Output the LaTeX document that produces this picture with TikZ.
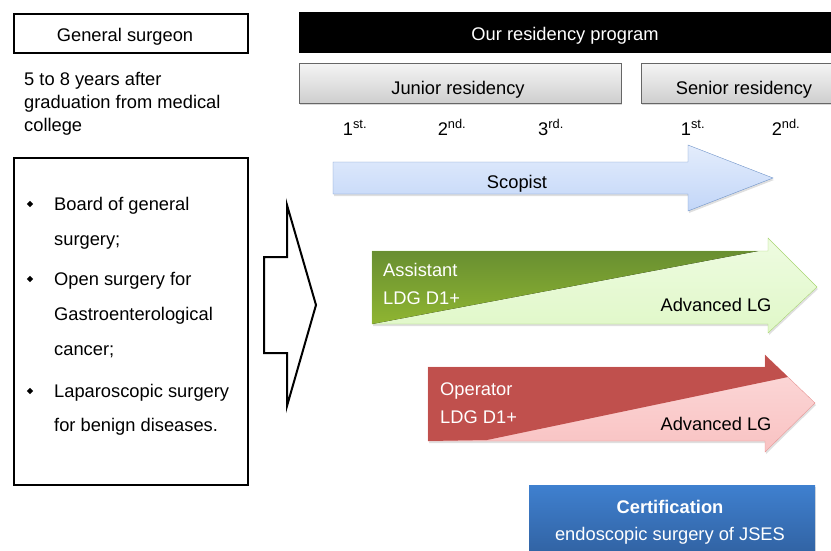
\documentclass[tikz,border=0pt]{standalone}
\usepackage{fontspec}
\setmainfont{Liberation Sans}
\usetikzlibrary{shapes}
\usetikzlibrary{shadows}

\definecolor{scopfill}{HTML}{C2D6F8}
\definecolor{scopline}{HTML}{6F93C8}
\definecolor{asslight}{HTML}{E0F8C8}
\definecolor{assline}{HTML}{A9D671}
\definecolor{assdark}{HTML}{7BA83A}
\definecolor{oplight}{HTML}{F9C2C2}
\definecolor{opline}{HTML}{E79494}
\definecolor{opdark}{HTML}{C0504D}
\definecolor{certtop}{HTML}{3F80CF}
\definecolor{certbot}{HTML}{30609F}

\begin{document}
\begin{tikzpicture}[x=1pt,y=-1pt]
			\tikzstyle{txt}=[font=\fontsize{18.3}{22}\selectfont, inner sep=0pt]
			\tikzstyle{blackbox}=[draw=black, line width=2.2pt]
			\tikzstyle{graybox}=[draw=gray!80!black, top color=gray!8, bottom color=gray!38, drop shadow={opacity=0.3, shadow xshift=1pt, shadow yshift=-2pt}]
			\tikzstyle{shade}=[drop shadow={opacity=0.25, shadow xshift=1pt, shadow yshift=-2pt}]
			\tikzstyle{bul}=[diamond, fill=black, inner sep=0pt, minimum size=6.5pt]
			\useasboundingbox (0,0) rectangle (831,550);

			\draw[blackbox] (14,14) rectangle (248,53);
			\node[txt, anchor=base] (gs) at (125,41) {General surgeon};
			\node[txt, anchor=base west] (yr1) at (24,85) {5 to 8 years after};
			\node[txt, anchor=base west] (yr2) at (24,108) {graduation from medical};
			\node[txt, anchor=base west] (yr3) at (24,131) {college};

			\draw[blackbox] (14,158) rectangle (248,485);
			\node[bul] (b1) at (30,204) {};
			\node[bul] (b2) at (30,279) {};
			\node[bul] (b3) at (30,391) {};
			\node[txt, anchor=base west] (l1) at (54,210) {Board of general};
			\node[txt, anchor=base west] (l2) at (54,245) {surgery;};
			\node[txt, anchor=base west] (l3) at (54,285) {Open surgery for};
			\node[txt, anchor=base west] (l4) at (54,320) {Gastroenterological};
			\node[txt, anchor=base west] (l5) at (54,355) {cancer;};
			\node[txt, anchor=base west] (l6) at (54,397) {Laparoscopic surgery};
			\node[txt, anchor=base west] (l7) at (54,431) {for benign diseases.};

			\draw[black, line width=2pt, line join=miter, fill=white] (264,257) -- (287,257) -- (287,205) -- (316,305) -- (287,406) -- (287,353) -- (264,353) -- cycle;

			\fill[black] (299,12) rectangle (831,53);
			\node[txt, anchor=base, white] (prog) at (565,40) {Our residency program};
			\draw[graybox] (299,63) rectangle (621,103);
			\node[txt, anchor=base] (jun) at (458,94) {Junior residency};
			\draw[graybox] (641,63) rectangle (840,103);
			\node[txt, anchor=base] (sen) at (744,94) {Senior residency};
			\node[txt, anchor=base] (j1) at (355,135) {1\textsuperscript{st.}};
			\node[txt, anchor=base] (j2) at (452,135) {2\textsuperscript{nd.}};
			\node[txt, anchor=base] (j3) at (551,135) {3\textsuperscript{rd.}};
			\node[txt, anchor=base] (s1) at (693,135) {1\textsuperscript{st.}};
			\node[txt, anchor=base] (s2) at (786,135) {2\textsuperscript{nd.}};

			\draw[shade, draw=scopline, top color=scopfill!45, bottom color=scopfill] (333,162) -- (688,162) -- (688,145) -- (773,178) -- (688,211) -- (688,194) -- (333,194) -- cycle;
			\node[txt, anchor=base] (scop) at (517,188) {Scopist};

			\draw[shade, draw=assline, top color=asslight!55, bottom color=asslight] (372,251) -- (768,251) -- (768,238) -- (817,287) -- (768,333) -- (768,324) -- (372,324) -- cycle;
			\fill[top color=assdark!85!black, bottom color=assdark!85!yellow] (372,251) -- (758,251) -- (372,324) -- cycle;
			\node[txt, anchor=base west, white] (as1) at (383,276) {Assistant};
			\node[txt, anchor=base west, white] (as2) at (383,304) {LDG D1+};
			\node[txt, anchor=base] (as3) at (716,311) {Advanced LG};

			\draw[shade, draw=opline, top color=oplight!60, bottom color=oplight] (428,367) -- (765,367) -- (765,355) -- (815,403) -- (765,452) -- (765,441) -- (428,441) -- cycle;
			\fill[opdark] (428,367) -- (765,367) -- (765,355) -- (788,377) -- (487,440) -- (428,441) -- cycle;
			\node[txt, anchor=base west, white] (op1) at (440,395) {Operator};
			\node[txt, anchor=base west, white] (op2) at (440,423) {LDG D1+};
			\node[txt, anchor=base] (op3) at (716,430) {Advanced LG};

			\fill[shade, top color=certtop, bottom color=certbot] (529,485) rectangle (815,560);
			\node[txt, anchor=base, white, font=\fontsize{18.3}{22}\selectfont\bfseries] (cert1) at (670,513) {Certification};
			\node[txt, anchor=base, white] (cert2) at (670,540) {endoscopic surgery of JSES};
\end{tikzpicture}
\end{document}
